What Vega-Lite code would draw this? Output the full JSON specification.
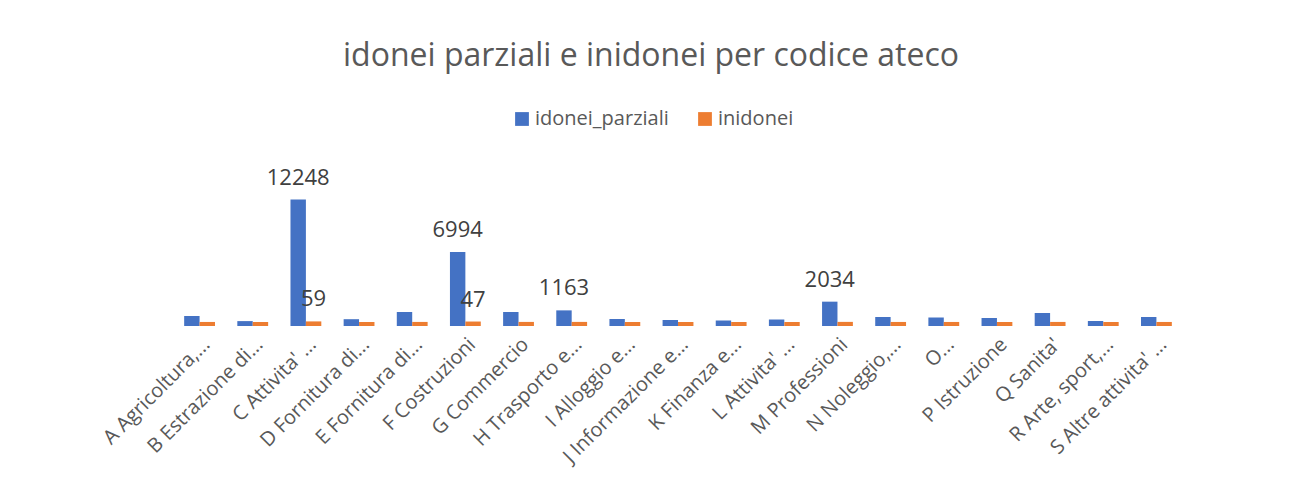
{
  "$schema": "https://vega.github.io/schema/vega-lite/v6.json",
  "autosize": "none",
  "width": 1010,
  "height": 160,
  "padding": {"left": 173, "top": 162, "right": 110, "bottom": 170},
  "background": "white",
  "title": {
    "text": "idonei parziali e inidonei per codice ateco",
    "font": "Open Sans",
    "fontSize": 32,
    "fontWeight": "normal",
    "color": "#595959",
    "anchor": "middle",
    "dx": -27,
    "offset": 36
  },
  "data": {
    "values": [
      {"cat": "A Agricoltura,...", "series": "idonei_parziali", "value": 600},
      {"cat": "A Agricoltura,...", "series": "inidonei", "value": 5},
      {"cat": "B Estrazione di...", "series": "idonei_parziali", "value": 90},
      {"cat": "B Estrazione di...", "series": "inidonei", "value": 1},
      {"cat": "C Attivita' ...", "series": "idonei_parziali", "value": 12248},
      {"cat": "C Attivita' ...", "series": "inidonei", "value": 59},
      {"cat": "D Fornitura di...", "series": "idonei_parziali", "value": 280},
      {"cat": "D Fornitura di...", "series": "inidonei", "value": 2},
      {"cat": "E Fornitura di...", "series": "idonei_parziali", "value": 1000},
      {"cat": "E Fornitura di...", "series": "inidonei", "value": 8},
      {"cat": "F Costruzioni", "series": "idonei_parziali", "value": 6994},
      {"cat": "F Costruzioni", "series": "inidonei", "value": 47},
      {"cat": "G Commercio", "series": "idonei_parziali", "value": 1000},
      {"cat": "G Commercio", "series": "inidonei", "value": 9},
      {"cat": "H Trasporto e...", "series": "idonei_parziali", "value": 1163},
      {"cat": "H Trasporto e...", "series": "inidonei", "value": 10},
      {"cat": "I Alloggio e...", "series": "idonei_parziali", "value": 300},
      {"cat": "I Alloggio e...", "series": "inidonei", "value": 3},
      {"cat": "J Informazione e...", "series": "idonei_parziali", "value": 200},
      {"cat": "J Informazione e...", "series": "inidonei", "value": 1},
      {"cat": "K Finanza e...", "series": "idonei_parziali", "value": 150},
      {"cat": "K Finanza e...", "series": "inidonei", "value": 1},
      {"cat": "L Attivita' ...", "series": "idonei_parziali", "value": 250},
      {"cat": "L Attivita' ...", "series": "inidonei", "value": 2},
      {"cat": "M Professioni", "series": "idonei_parziali", "value": 2034},
      {"cat": "M Professioni", "series": "inidonei", "value": 12},
      {"cat": "N Noleggio,...", "series": "idonei_parziali", "value": 500},
      {"cat": "N Noleggio,...", "series": "inidonei", "value": 5},
      {"cat": "O...", "series": "idonei_parziali", "value": 450},
      {"cat": "O...", "series": "inidonei", "value": 4},
      {"cat": "P Istruzione", "series": "idonei_parziali", "value": 400},
      {"cat": "P Istruzione", "series": "inidonei", "value": 3},
      {"cat": "Q Sanita'", "series": "idonei_parziali", "value": 900},
      {"cat": "Q Sanita'", "series": "inidonei", "value": 7},
      {"cat": "R Arte, sport,...", "series": "idonei_parziali", "value": 100},
      {"cat": "R Arte, sport,...", "series": "inidonei", "value": 1},
      {"cat": "S Altre attivita' ...", "series": "idonei_parziali", "value": 500},
      {"cat": "S Altre attivita' ...", "series": "inidonei", "value": 4}
    ]
  },
  "encoding": {
    "x": {
      "field": "cat",
      "type": "nominal",
      "sort": null,
      "title": null,
      "scale": {"paddingInner": 0.42, "paddingOuter": 0.21},
      "axis": {
        "labelAngle": -45,
        "labelFont": "Open Sans",
        "labelFontSize": 20,
        "labelColor": "#595959",
        "labelPadding": 12,
        "domain": false,
        "ticks": false,
        "labelLimit": 300
      }
    },
    "xOffset": {"field": "series", "type": "nominal", "sort": ["idonei_parziali", "inidonei"]},
    "y": {
      "field": "value",
      "type": "quantitative",
      "scale": {"domain": [0, 16000]},
      "axis": null
    }
  },
  "layer": [
    {
      "mark": {"type": "bar", "minBandSize": 0, "y2Offset": 4},
      "encoding": {
        "y2": {"datum": 0},
        "color": {
          "field": "series",
          "type": "nominal",
          "scale": {"domain": ["idonei_parziali", "inidonei"], "range": ["#4472C4", "#ED7D31"]},
          "legend": {
            "orient": "none",
            "legendX": 339,
            "legendY": -53,
            "direction": "horizontal",
            "title": null,
            "symbolType": "square",
            "symbolSize": 190,
            "symbolStrokeWidth": 0,
            "labelFont": "Open Sans",
            "labelFontSize": 20,
            "labelColor": "#595959",
            "columnPadding": 26,
            "labelOffset": 3
          }
        }
      }
    },
    {
      "transform": [{"filter": "datum.value >= 1100 || (datum.series == 'inidonei' && datum.value >= 40)"}],
      "mark": {"type": "text", "baseline": "bottom", "dy": -10, "font": "Open Sans", "fontSize": 22, "color": "#404040"},
      "encoding": {"text": {"field": "value", "type": "quantitative", "format": "d"}}
    }
  ],
  "config": {"view": {"stroke": null}}
}
